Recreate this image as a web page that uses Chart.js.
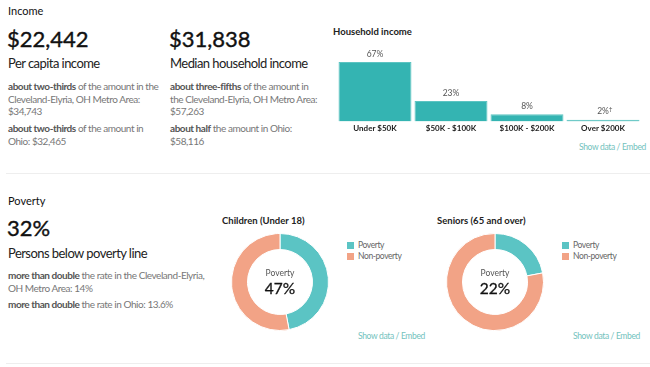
<!DOCTYPE html>
<html>
<head>
<meta charset="utf-8">
<script src="https://cdn.jsdelivr.net/npm/chart.js@4.4.0/dist/chart.umd.min.js"></script>
<style>
  body { margin: 0; background: #fff; font-family: Lato, "Noto Sans", sans-serif; color: #222; }
  .abs { position: absolute; white-space: nowrap; }
  .sec { font-size: 11px; color: #111; }
  .big { font-size: 22px; color: #111; line-height: 24px; -webkit-text-stroke: 0.4px #111; }
  .sub { font-size: 13px; color: #222; line-height: 16px; letter-spacing: -0.55px; }
  .note { font-size: 10px; color: #777; line-height: 12.7px; white-space: normal; letter-spacing: -0.45px; }
  .note b { color: #555; }
  .ctitle { font-size: 9.5px; font-weight: bold; color: #222; }
  .links { font-size: 8.5px; color: #72c2bd; letter-spacing: -0.35px; }
  .rule { position: absolute; left: 6px; right: 0; height: 1px; background: #eee; }
  .leg { font-size: 8.5px; color: #666; line-height: 11px; letter-spacing: -0.4px; }
  .leg span.sw { display: inline-block; width: 7px; height: 7px; margin-right: 4px; vertical-align: -1px; }
</style>
</head>
<body>
<div class="abs sec" style="left:8px;top:4px;">Income</div>
<div class="abs big" style="left:7px;top:27px;">$22,442</div>
<div class="abs sub" style="left:8px;top:55px;">Per capita income</div>
<div class="abs note" style="left:8px;top:80px;width:152px;"><b>about two-thirds</b> of the amount in the Cleveland-Elyria, OH Metro Area: $34,743</div>
<div class="abs note" style="left:8px;top:122px;width:152px;"><b>about two-thirds</b> of the amount in Ohio: $32,465</div>

<div class="abs big" style="left:169px;top:27px;">$31,838</div>
<div class="abs sub" style="left:170px;top:55px;">Median household income</div>
<div class="abs note" style="left:170px;top:80px;width:152px;"><b>about three-fifths</b> of the amount in the Cleveland-Elyria, OH Metro Area: $57,263</div>
<div class="abs note" style="left:170px;top:122px;width:152px;"><b>about half</b> the amount in Ohio: $58,116</div>

<div class="abs ctitle" style="left:333px;top:26px;">Household income</div>
<canvas id="incomeChart" width="312" height="95" style="position:absolute;left:331px;top:40px;"></canvas>
<div class="abs links" style="left:579px;top:142px;">Show data / Embed</div>

<div class="rule" style="top:173px;"></div>

<div class="abs sec" style="left:8px;top:194px;">Poverty</div>
<div class="abs big" style="left:7px;top:216px;">32%</div>
<div class="abs sub" style="left:8px;top:245px;">Persons below poverty line</div>
<div class="abs note" style="left:8px;top:269px;width:205px;"><b>more than double</b> the rate in the Cleveland-Elyria, OH Metro Area: 14%</div>
<div class="abs note" style="left:8px;top:298px;width:205px;"><b>more than double</b> the rate in Ohio: 13.6%</div>

<div class="abs ctitle" style="left:222px;top:215px;">Children (Under 18)</div>
<canvas id="childrenChart" width="100" height="100" style="position:absolute;left:230px;top:232px;"></canvas>
<div class="abs leg" id="childrenLegend" style="left:347px;top:240px;"></div>
<div class="abs links" style="left:358px;top:331px;">Show data / Embed</div>

<div class="abs ctitle" style="left:437px;top:215px;">Seniors (65 and over)</div>
<canvas id="seniorsChart" width="100" height="100" style="position:absolute;left:445px;top:232px;"></canvas>
<div class="abs leg" id="seniorsLegend" style="left:562px;top:240px;"></div>
<div class="abs links" style="left:573px;top:331px;">Show data / Embed</div>

<div class="rule" style="top:363px;"></div>

<script>
// данные
const incomeCategories = ['Under $50K', '$50K - $100K', '$100K - $200K', 'Over $200K'];
const incomeValues = [67, 23, 8, 2];
const incomeNotes = ['', '', '', '\u2020'];

const povertyLabels = ['Poverty', 'Non-poverty'];
const childrenValues = [47, 53];
const seniorsValues = [22, 78];

const teal = '#34b4b2';
const donutColors = ['#5bc4c4', '#f2a386'];

// подписи над столбцами
const barLabels = {
    id: 'barLabels',
    afterDatasetsDraw(chart) {
        const ctx = chart.ctx;
        const meta = chart.getDatasetMeta(0);
        ctx.save();
        ctx.font = '8.5px Lato';
        ctx.fillStyle = '#555';
        ctx.textAlign = 'center';
        ctx.textBaseline = 'middle';
        meta.data.forEach((bar, i) => {
            const txt = incomeValues[i] + '%';
            ctx.fillText(txt, bar.x, bar.y - 8);
            if (incomeNotes[i]) {
                const w = ctx.measureText(txt).width;
                ctx.font = '6.5px Lato';
                ctx.textAlign = 'left';
                ctx.fillText(incomeNotes[i], bar.x + w / 2, bar.y - 11);
                ctx.font = '8.5px Lato';
                ctx.textAlign = 'center';
            }
        });
        ctx.restore();
    }
};

new Chart(document.getElementById('incomeChart'), {
    type: 'bar',
    data: {
        labels: incomeCategories,
        datasets: [{
            data: incomeValues,
            backgroundColor: teal,
            borderColor: '#5cc4c2',
            borderWidth: 1,
            categoryPercentage: 1,
            barPercentage: 0.96
        }]
    },
    options: {
        responsive: false,
        animation: false,
        layout: { padding: { left: 6, right: 2, top: 22, bottom: 0 } },
        plugins: { legend: { display: false }, tooltip: { enabled: false } },
        scales: {
            x: {
                grid: { display: false, drawTicks: false },
                border: { display: false },
                ticks: { color: '#222', font: { family: 'Lato', size: 8, weight: 'bold' }, padding: 2, maxRotation: 0 }
            },
            y: { display: false, min: 0, max: 67 }
        }
    },
    plugins: [barLabels]
});

// текст в центре кольца
const centerText = {
    id: 'centerText',
    afterDraw(chart) {
        const ctx = chart.ctx;
        const arc = chart.getDatasetMeta(0).data[0];
        const value = chart.data.datasets[0].data[0];
        ctx.save();
        ctx.textAlign = 'center';
        ctx.textBaseline = 'middle';
        ctx.fillStyle = '#555';
        ctx.font = '8.5px Lato';
        ctx.fillText(povertyLabels[0], arc.x, arc.y - 8.5);
        ctx.fillStyle = '#111';
        ctx.strokeStyle = '#111';
        ctx.lineWidth = 0.3;
        ctx.font = '15.5px Lato';
        ctx.fillText(value + '%', arc.x, arc.y + 6.5);
        ctx.strokeText(value + '%', arc.x, arc.y + 6.5);
        ctx.restore();
    }
};

function makeDonut(id, values, legendId) {
    new Chart(document.getElementById(id), {
        type: 'doughnut',
        data: {
            labels: povertyLabels,
            datasets: [{
                data: values,
                backgroundColor: donutColors,
                borderColor: '#fff',
                borderWidth: 1
            }]
        },
        options: {
            responsive: false,
            animation: false,
            cutout: '67%',
            layout: { padding: 1 },
            plugins: { legend: { display: false }, tooltip: { enabled: false } }
        },
        plugins: [centerText]
    });
    document.getElementById(legendId).innerHTML = povertyLabels
        .map((l, i) => '<div><span class="sw" style="background:' + donutColors[i] + '"></span>' + l + '</div>')
        .join('');
}

makeDonut('childrenChart', childrenValues, 'childrenLegend');
makeDonut('seniorsChart', seniorsValues, 'seniorsLegend');
</script>
</body>
</html>
